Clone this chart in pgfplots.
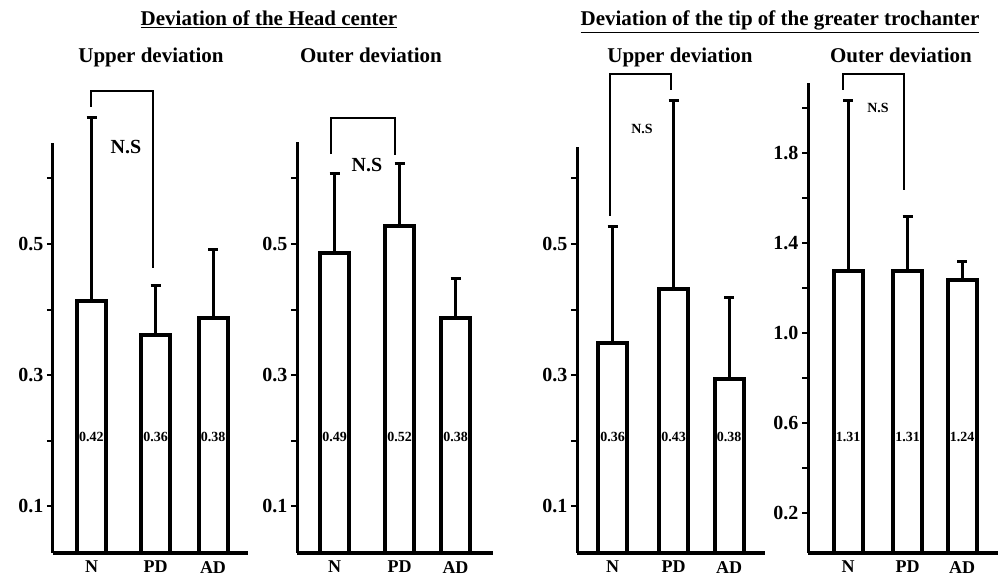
\documentclass[border=0pt]{standalone}
\usepackage{fontspec}
\setmainfont{Liberation Serif}
\usepackage{pgfplots}
\usepackage{pgfplotstable}
\pgfplotsset{compat=1.18}

\pgfplotstableread{
x y e
91.5 0.413 0.280
155.5 0.361 0.076
213 0.387 0.104
}\dataA
\pgfplotstableread{
x y e
334.5 0.486 0.122
399.5 0.527 0.096
455.5 0.387 0.060
}\dataB
\pgfplotstableread{
x y e
612.5 0.349 0.178
673.5 0.431 0.288
729 0.294 0.124
}\dataC
\pgfplotstableread{
x y e
848 1.276 0.755
907.5 1.276 0.240
962 1.236 0.080
}\dataD

\pgfplotsset{
 panel/.style={
  x=1pt, y=656pt,
  anchor=south west,
  axis x line=bottom, axis y line=left,
  x axis line style={-, line width=3.5pt},
  y axis line style={draw=none},
  clip mode=individual,
  ybar, bar width=29,
  tick align=outside,
  major tick length=6pt, minor tick length=6pt,
  every tick/.style={line width=2pt, black},
  xtick style={draw=none},
  yticklabel style={font=\fontsize{20}{20}\selectfont\bfseries},
  xticklabel style={font=\fontsize{18}{18}\selectfont\bfseries, anchor=north, inner sep=0pt, yshift=-2pt},
  /pgf/number format/.cd, fixed, fixed zerofill, precision=1, assume math mode=true,
 },
 bars/.style={fill=white, draw=black, line width=4pt,
  error bars/.cd, y dir=plus, y explicit,
  error bar style={line width=3pt},
  error mark options={rotate=90, mark size=5pt, line width=3pt}},
}
\tikzset{
 bracket/.style={line width=2pt},
 vlab/.style={font=\fontsize{14}{14}\selectfont\bfseries, inner sep=0pt},
}

\begin{document}
\begin{tikzpicture}
\useasboundingbox (0pt,0pt) rectangle (1005pt,576pt);

% Titles
\node[anchor=base, font=\fontsize{21}{21}\selectfont\bfseries] at (269pt,550pt) {\underline{Deviation of the Head center}};
\node[anchor=base, font=\fontsize{21}{21}\selectfont\bfseries] at (780pt,550pt) {\underline{Deviation of the tip of the greater trochanter}};
\node[anchor=base, font=\fontsize{21}{21}\selectfont\bfseries] at (151pt,513pt) {Upper deviation};
\node[anchor=base, font=\fontsize{21}{21}\selectfont\bfseries] at (371pt,513pt) {Outer deviation};
\node[anchor=base, font=\fontsize{21}{21}\selectfont\bfseries] at (680pt,513pt) {Upper deviation};
\node[anchor=base, font=\fontsize{21}{21}\selectfont\bfseries] at (901pt,513pt) {Outer deviation};

% Panel 1
\begin{axis}[panel, at={(53pt,23pt)}, xmin=53, xmax=248, ymin=0.029, ymax=0.76,
  xtick={91.5,155.5,213}, xticklabels={N,PD,AD},
  ytick={0.1,0.3,0.5}, minor ytick={0.2,0.4,0.6}]
\addplot[bars] table[x=x, y=y, y error=e] {\dataA};
\draw[line width=3pt] (axis cs:53,0.029) -- (axis cs:53,0.654);
\draw[bracket] (axis cs:91,0.709) -- (axis cs:91,0.733) -- (axis cs:153,0.733) -- (axis cs:153,0.463);
\node[anchor=base, font=\fontsize{20}{20}\selectfont\bfseries] at (axis cs:126,0.638) {N.S};
\node[vlab] at (axis cs:91.5,0.206) {0.42};
\node[vlab] at (axis cs:155.5,0.206) {0.36};
\node[vlab] at (axis cs:213,0.206) {0.38};
\end{axis}

% Panel 2
\begin{axis}[panel, at={(297pt,23pt)}, xmin=297, xmax=493, ymin=0.029, ymax=0.76,
  xtick={334.5,399.5,455.5}, xticklabels={N,PD,AD},
  ytick={0.1,0.3,0.5}, minor ytick={0.2,0.4,0.6}]
\addplot[bars] table[x=x, y=y, y error=e] {\dataB};
\draw[line width=3pt] (axis cs:297,0.029) -- (axis cs:297,0.656);
\draw[bracket] (axis cs:331,0.637) -- (axis cs:331,0.692) -- (axis cs:395,0.692) -- (axis cs:395,0.636);
\node[anchor=base, font=\fontsize{20}{20}\selectfont\bfseries] at (axis cs:367,0.611) {N.S};
\node[vlab] at (axis cs:334.5,0.206) {0.49};
\node[vlab] at (axis cs:399.5,0.206) {0.52};
\node[vlab] at (axis cs:455.5,0.206) {0.38};
\end{axis}

% Panel 3
\begin{axis}[panel, at={(577pt,23pt)}, xmin=577, xmax=765, ymin=0.029, ymax=0.76,
  xtick={612.5,673.5,729}, xticklabels={N,PD,AD},
  ytick={0.1,0.3,0.5}, minor ytick={0.2,0.4,0.6}]
\addplot[bars] table[x=x, y=y, y error=e] {\dataC};
\draw[line width=3pt] (axis cs:577,0.029) -- (axis cs:577,0.648);
\draw[bracket] (axis cs:610,0.543) -- (axis cs:610,0.759) -- (axis cs:671,0.759) -- (axis cs:671,0.735);
\node[anchor=base, font=\fontsize{14}{14}\selectfont\bfseries] at (axis cs:642,0.668) {N.S};
\node[vlab] at (axis cs:612.5,0.206) {0.36};
\node[vlab] at (axis cs:673.5,0.206) {0.43};
\node[vlab] at (axis cs:729,0.206) {0.38};
\end{axis}

% Panel 4
\begin{axis}[panel, y=225pt, at={(808pt,23pt)}, xmin=808, xmax=998, ymin=0.022, ymax=2.2,
  xtick={848,907.5,962}, xticklabels={N,PD,AD},
  ytick={0.2,0.6,1.0,1.4,1.8}, minor ytick={0.4,0.8,1.2,1.6,2.0}]
\addplot[bars] table[x=x, y=y, y error=e] {\dataD};
\draw[line width=3pt] (axis cs:808,0.022) -- (axis cs:808,2.111);
\draw[bracket] (axis cs:843,2.080) -- (axis cs:843,2.151) -- (axis cs:904,2.151) -- (axis cs:904,1.635);
\node[anchor=base, font=\fontsize{14}{14}\selectfont\bfseries] at (axis cs:878,1.98) {N.S};
\node[vlab] at (axis cs:848,0.538) {1.31};
\node[vlab] at (axis cs:907.5,0.538) {1.31};
\node[vlab] at (axis cs:962,0.538) {1.24};
\end{axis}
\end{tikzpicture}
\end{document}
